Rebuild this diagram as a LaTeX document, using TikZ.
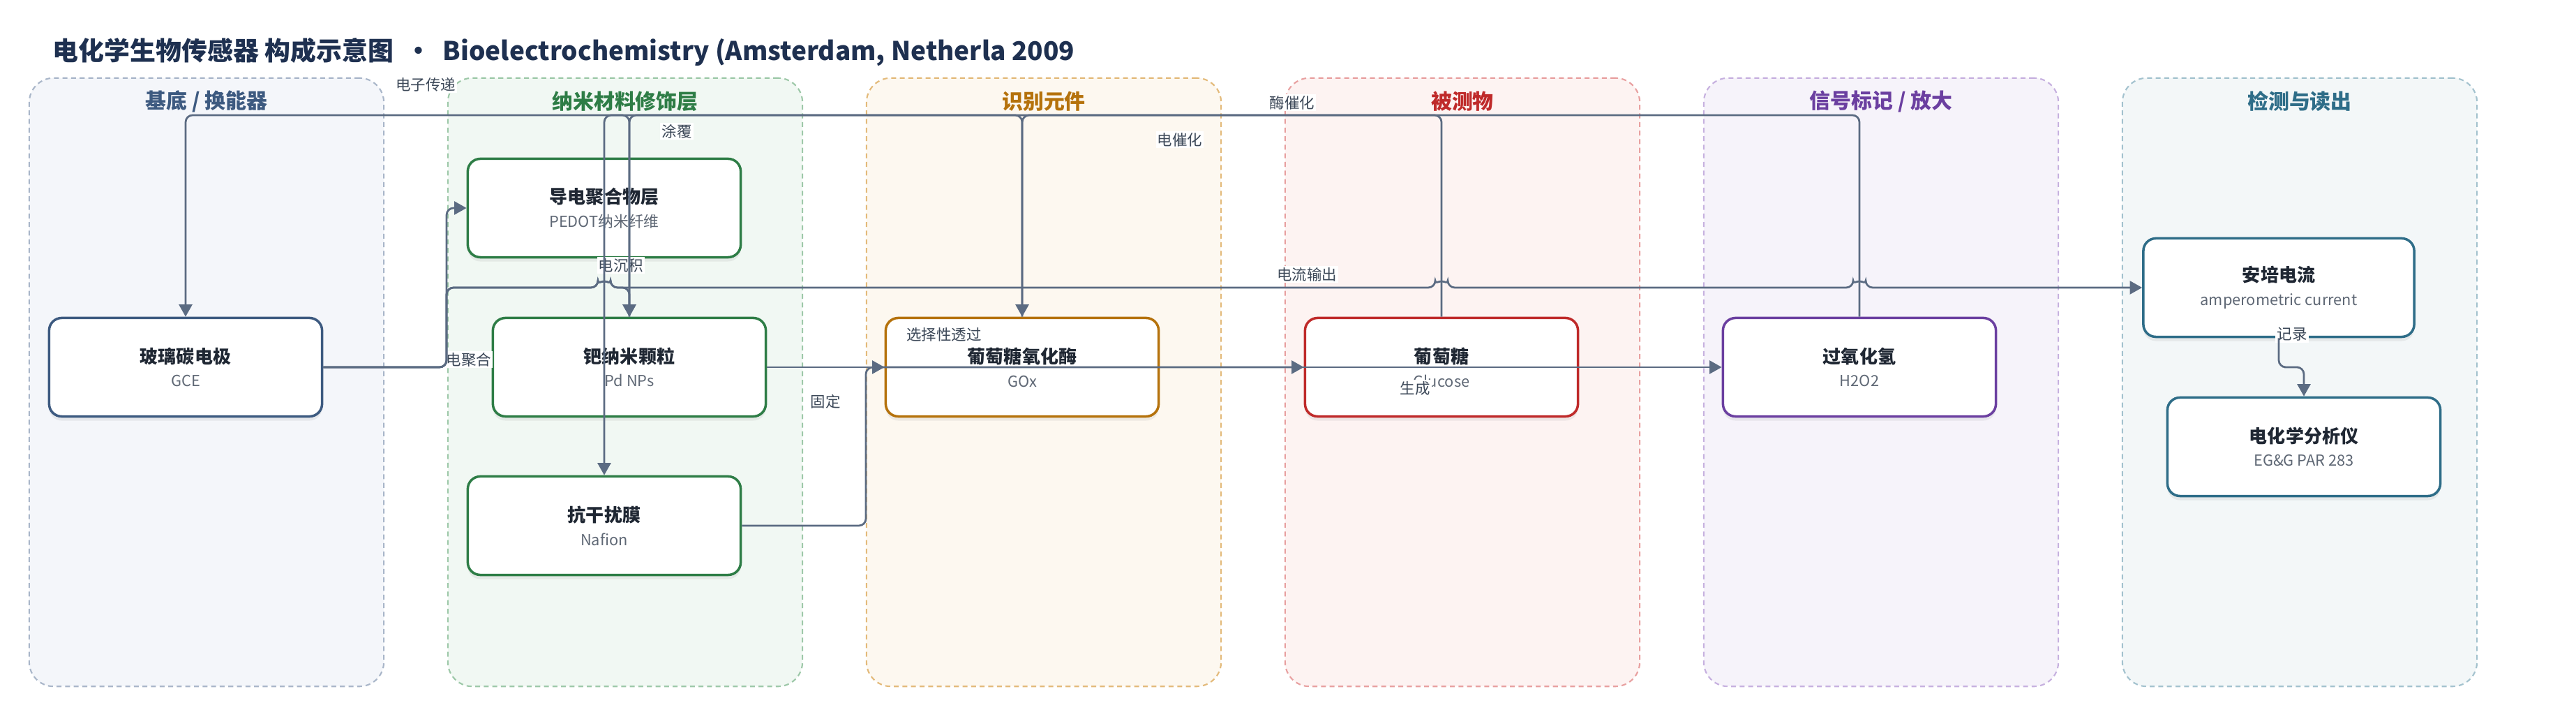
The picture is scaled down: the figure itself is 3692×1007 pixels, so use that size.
\documentclass[tikz,border=0pt]{standalone}
\usepackage{fontspec}
\setmainfont{Noto Sans CJK SC}
\usetikzlibrary{arrows.meta,shadows,calc}

\definecolor{titlec}{HTML}{1E3050}
\definecolor{namec}{HTML}{1F2733}
\definecolor{subc}{HTML}{5F6875}
\definecolor{labelc}{HTML}{3C4858}
\definecolor{linkc}{HTML}{5B6B82}
\definecolor{subsA}{HTML}{3D5A80}\definecolor{subsB}{HTML}{A9B6C9}\definecolor{subsF}{HTML}{F4F6FA}
\definecolor{nanoA}{HTML}{2E7D46}\definecolor{nanoB}{HTML}{9DC8A8}\definecolor{nanoF}{HTML}{F1F8F3}
\definecolor{recoA}{HTML}{B5720C}\definecolor{recoB}{HTML}{E3BA7A}\definecolor{recoF}{HTML}{FDF8F0}
\definecolor{analA}{HTML}{BF2A2A}\definecolor{analB}{HTML}{E8A0A0}\definecolor{analF}{HTML}{FDF3F2}
\definecolor{signA}{HTML}{6B3FA0}\definecolor{signB}{HTML}{C6B0DF}\definecolor{signF}{HTML}{F6F3FA}
\definecolor{readA}{HTML}{2E6D88}\definecolor{readB}{HTML}{A3C2CE}\definecolor{readF}{HTML}{F3F7F8}

\newcommand{\subline}[1]{{\fontsize{6.2}{8}\selectfont\mdseries\color{subc}#1}}

\tikzset{
  lane/.style={draw, dash pattern=on 2pt off 1.5pt, line width=0.6pt, rounded corners=0.35cm,
    minimum width=5.08cm, minimum height=8.71cm, inner sep=0pt},
  lanetitle/.style={font=\fontsize{8.5}{10}\selectfont\bfseries},
  part/.style={draw, fill=white, line width=1pt, rounded corners=0.18cm,
    minimum width=3.91cm, minimum height=1.41cm, align=center, text=namec,
    font=\fontsize{7.4}{9.6}\selectfont\bfseries,
    drop shadow={shadow xshift=0pt, shadow yshift=-0.06cm, opacity=0.12}},
  elabel/.style={fill=white, inner sep=0.6pt, text=labelc, font=\fontsize{6.1}{7}\selectfont},
  link/.style={draw=linkc, line width=0.78pt, rounded corners=0.1cm},
  arr/.style={link, -{Triangle[length=5pt,width=5.4pt]}}
}

\begin{document}
\begin{tikzpicture}[x=0.01cm, y=-0.01cm]
\useasboundingbox (0,0) rectangle (3692,1007);

\node[anchor=west, inner sep=0pt, text=titlec, font=\fontsize{10.5}{12}\selectfont\bfseries] (title) at (75,75)
  {电化学生物传感器 构成示意图 \ •\ \ Bioelectrochemistry (Amsterdam, Netherla 2009};

\node[lane, draw=subsB, fill=subsF] (lane1) at (296,547.5) {};
\node[lane, draw=nanoB, fill=nanoF] (lane2) at (896,547.5) {};
\node[lane, draw=recoB, fill=recoF] (lane3) at (1496,547.5) {};
\node[lane, draw=analB, fill=analF] (lane4) at (2096,547.5) {};
\node[lane, draw=signB, fill=signF] (lane5) at (2696,547.5) {};
\node[lane, draw=readB, fill=readF] (lane6) at (3296,547.5) {};

\node[lanetitle, text=subsA] (head1) at (296,145) {基底 / 换能器};
\node[lanetitle, text=nanoA] (head2) at (896,145) {纳米材料修饰层};
\node[lanetitle, text=recoA] (head3) at (1496,145) {识别元件};
\node[lanetitle, text=analA] (head4) at (2096,145) {被测物};
\node[lanetitle, text=signA] (head5) at (2696,145) {信号标记 / 放大};
\node[lanetitle, text=readA] (head6) at (3296,145) {检测与读出};

\node[part, draw=subsA] (gce) at (266,526) {玻璃碳电极\\\subline{GCE}};
\node[part, draw=nanoA] (pedot) at (866,298) {导电聚合物层\\\subline{PEDOT纳米纤维}};
\node[part, draw=nanoA] (pdnp) at (902,526) {钯纳米颗粒\\\subline{Pd NPs}};
\node[part, draw=nanoA] (nafion) at (866,753) {抗干扰膜\\\subline{Nafion}};
\node[part, draw=recoA] (gox) at (1465,526) {葡萄糖氧化酶\\\subline{GOx}};
\node[part, draw=analA] (glu) at (2066,526) {葡萄糖\\\subline{Glucose}};
\node[part, draw=signA] (hoo) at (2665,526) {过氧化氢\\\subline{H2O2}};
\node[part, draw=readA, minimum width=3.88cm] (amp) at (3266,412) {安培电流\\\subline{amperometric current}};
\node[part, draw=readA] (ana) at (3302,640) {电化学分析仪\\\subline{EG\&G PAR 283}};

\node[elabel] (lblA) at (610,121) {电子传递};
\node[elabel] (lblB) at (970,188) {涂覆};
\node[elabel] (lblC) at (890,380) {电沉积};
\node[elabel] (lblD) at (672,515) {电聚合};
\node[elabel] (lblE) at (1183,575) {固定};
\node[elabel] (lblF) at (1353,479) {选择性透过};
\node[elabel] (lblG) at (1691,200) {电催化};
\node[elabel] (lblH) at (1852,147) {酶催化};
\node[elabel] (lblI) at (1873,393) {电流输出};
\node[elabel] (lblJ) at (2028,556) {生成};
\node[elabel] (lblK) at (3285,479) {记录};

\coordinate (busL) at (640,0);
\coordinate (busM) at (1241,0);
\coordinate (busT) at (0,165);

\draw[arr] (gce.east) -| (busL |- pedot.west) -- (pedot.west);
\draw[arr] (gce.east) -| (busL |- amp.west) -- ($(nafion.north |- amp.west)+(-9,0)$)
  arc[start angle=180, end angle=0, radius=0.09cm] -- ($(glu.north |- amp.west)+(-9,0)$)
  arc[start angle=180, end angle=0, radius=0.09cm] -- ($(hoo.north |- amp.west)+(-9,0)$)
  arc[start angle=180, end angle=0, radius=0.09cm] -- (amp.west);
\draw[arr] (gce.east) -| (busL |- amp.west) -- ($(nafion.north |- amp.west)+(-9,0)$)
  arc[start angle=180, end angle=0, radius=0.09cm] -- (pdnp.north |- amp.west) -- (pdnp.north);
\draw[arr] (pdnp.north) |- (gce.north |- busT) -- (gce.north);
\draw[arr] (gox.north) |- (nafion.north |- busT) -- (nafion.north);
\draw[arr] (pdnp.east) -- (gox.west);
\draw[arr] (nafion.east) -| (busM |- glu.west) -- (glu.west);
\draw[arr] (glu.north) |- (gox.north |- busT) -- (gox.north);
\draw[arr] (gox.east) -- (hoo.west);
\draw[arr] (hoo.north) |- (pdnp.north |- busT) -- (pdnp.north);
\draw[arr] (amp.south) |- ($(amp.south)!0.5!(ana.north)$) -| (ana.north);
\end{tikzpicture}
\end{document}
